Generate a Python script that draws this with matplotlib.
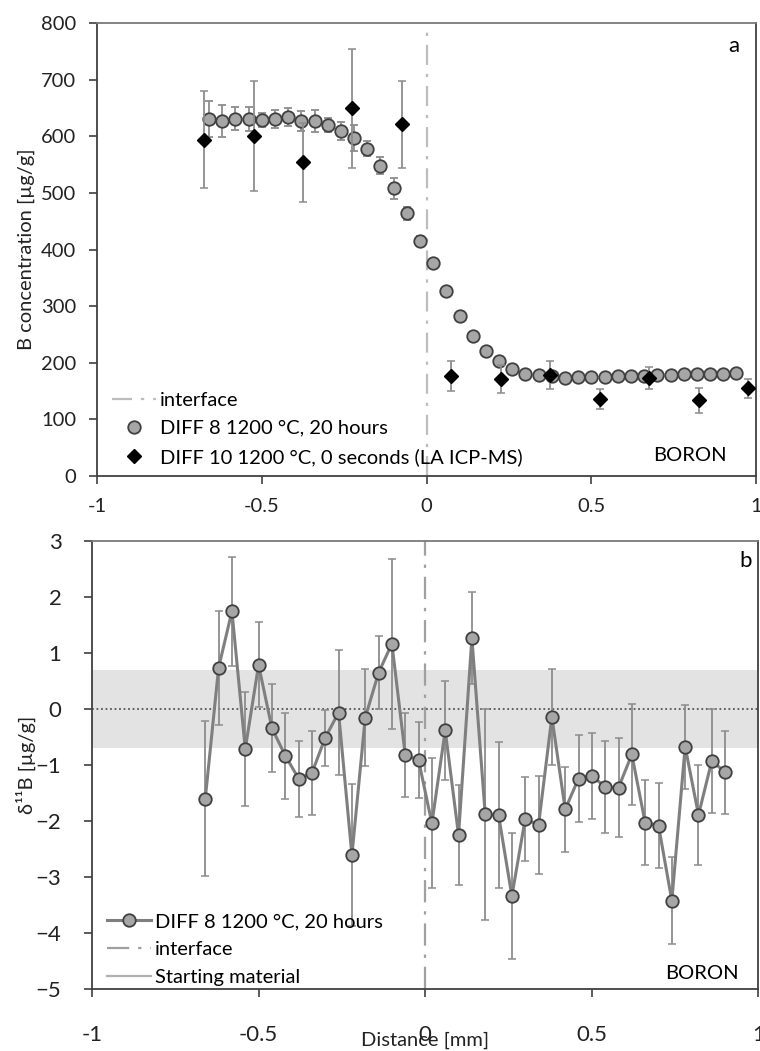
import matplotlib
matplotlib.use("Agg")
import matplotlib.pyplot as plt
from matplotlib.ticker import FuncFormatter

plt.rcParams["font.family"] = ["Lato", "DejaVu Sans"]

# panel a: B concentration, DIFF 8 (20 h)
dist_8 = [-0.66, -0.62, -0.58, -0.54, -0.50, -0.46, -0.42, -0.38, -0.34, -0.30,
          -0.26, -0.22, -0.18, -0.14, -0.10, -0.06, -0.02, 0.02, 0.06, 0.10,
          0.14, 0.18, 0.22, 0.26, 0.30, 0.34, 0.38, 0.42, 0.46, 0.50,
          0.54, 0.58, 0.62, 0.66, 0.70, 0.74, 0.78, 0.82, 0.86, 0.90, 0.94]
conc_8 = [631, 627, 631, 631, 629, 631, 634, 627, 627, 620,
          610, 597, 578, 548, 508, 464, 416, 376, 327, 283,
          247, 221, 203, 190, 181, 178, 177, 174, 175, 175,
          175, 176, 177, 177, 178, 178, 180, 180, 180, 180, 182]
err_8 = [32, 28, 20, 21, 13, 16, 16, 17, 19, 13,
         16, 23, 13, 15, 18, 12, 8, 6, 6, 6,
         6, 6, 6, 5, 5, 5, 5, 5, 5, 5,
         5, 5, 5, 5, 5, 5, 5, 5, 5, 5, 5]

# panel a: DIFF 10 (0 s, LA ICP-MS)
dist_10 = [-0.675, -0.525, -0.375, -0.225, -0.075, 0.075, 0.225, 0.375, 0.525, 0.675, 0.825, 0.975]
conc_10 = [594, 601, 554, 650, 621, 177, 172, 178, 136, 173, 134, 155]
err_10 = [86, 97, 70, 105, 77, 27, 25, 25, 17, 20, 22, 17]

# panel b: delta 11B, DIFF 8
dist_d = [-0.66, -0.62, -0.58, -0.54, -0.50, -0.46, -0.42, -0.38, -0.34, -0.30,
          -0.26, -0.22, -0.18, -0.14, -0.10, -0.06, -0.02, 0.02, 0.06, 0.10,
          0.14, 0.18, 0.22, 0.26, 0.30, 0.34, 0.38, 0.42, 0.46, 0.50,
          0.54, 0.58, 0.62, 0.66, 0.70, 0.74, 0.78, 0.82, 0.86, 0.90]
delta_d = [-1.60, 0.74, 1.75, -0.71, 0.79, -0.34, -0.83, -1.24, -1.14, -0.51,
           -0.06, -2.61, -0.15, 0.65, 1.17, -0.82, -0.91, -2.04, -0.38, -2.25,
           1.27, -1.88, -1.89, -3.34, -1.96, -2.07, -0.14, -1.79, -1.24, -1.19,
           -1.39, -1.40, -0.81, -2.03, -2.08, -3.42, -0.67, -1.89, -0.92, -1.13]
err_d = [1.39, 1.02, 0.97, 1.02, 0.76, 0.79, 0.77, 0.68, 0.75, 0.50,
         1.11, 1.27, 0.86, 0.65, 1.52, 0.75, 0.68, 1.16, 0.88, 0.90,
         0.82, 1.88, 1.30, 1.12, 0.75, 0.87, 0.85, 0.76, 0.77, 0.77,
         0.82, 0.88, 0.90, 0.76, 0.76, 0.77, 0.75, 0.90, 0.93, 0.74]
start_band = 0.7

fig = plt.figure(figsize=(7.6, 10.51), dpi=100)
ax1 = fig.add_axes([0.1276, 0.547, 0.8674, 0.431])
ax2 = fig.add_axes([0.121, 0.059, 0.877, 0.426])

fmt = FuncFormatter(lambda v, p: f"{v:g}")

# ---- panel a
iface = ax1.axvline(0, color="#bdbdbd", lw=1.6, ls=(0, (9, 4, 1.5, 4)), zorder=1)
eb8 = ax1.errorbar(dist_8, conc_8, yerr=err_8, fmt="o", ms=9, mfc="#a6a6a6", mec="#404040",
                   mew=1.3, ecolor="#8c8c8c", elinewidth=1.3, capsize=3, capthick=1.1, zorder=3)
eb10 = ax1.errorbar(dist_10, conc_10, yerr=err_10, fmt="D", ms=7, mfc="black", mec="black",
                    ecolor="#8c8c8c", elinewidth=1.3, capsize=3, capthick=1.1, zorder=4)
ax1.set_xlim(-1, 1)
ax1.set_ylim(0, 800)
ax1.set_yticks(range(0, 801, 100))
ax1.set_xticks([-1, -0.5, 0, 0.5, 1])
ax1.xaxis.set_major_formatter(fmt)
ax1.tick_params(labelsize=14.5, length=6, width=1.2, color="#404040", labelcolor="#222222")
ax1.tick_params(axis="x", pad=10)
ax1.tick_params(axis="y", pad=9)
ax1.set_ylabel("B concentration [µg/g]", fontsize=14.5, color="#222222", labelpad=4)
ax1.text(0.975, 0.95, "a", transform=ax1.transAxes, fontsize=16, ha="right", va="center")
ax1.text(0.955, 0.045, "BORON", transform=ax1.transAxes, fontsize=14.5, ha="right", va="center")
# legend shows only the markers, not the error bars
ax1.legend([iface, eb8.lines[0], eb10.lines[0]],
           ["interface", "DIFF 8 1200 °C, 20 hours", "DIFF 10 1200 °C, 0 seconds (LA ICP-MS)"],
           loc="lower left", frameon=False, fontsize=14.5, handlelength=2.2,
           handletextpad=0.2, labelspacing=0.55, borderaxespad=0.0, bbox_to_anchor=(0.01, 0.005))

# ---- panel b
ax2.axhspan(-start_band, start_band, color="#e3e3e3", lw=0, zorder=0)
ax2.axhline(0, color="#555555", lw=1.3, ls=(0, (1, 1.5)), zorder=1)
ax2.axvline(0, color="#a0a0a0", lw=1.6, ls=(0, (10, 4, 1.5, 4)), zorder=1)
ax2.errorbar(dist_d, delta_d, yerr=err_d, fmt="none", ecolor="#8c8c8c", elinewidth=1.3,
             capsize=3, capthick=1.1, zorder=2)
ax2.plot(dist_d, delta_d, "-o", color="#7f7f7f", lw=2.2, ms=9, mfc="#a6a6a6", mec="#404040",
         mew=1.3, zorder=3)
ax2.set_xlim(-1, 1)
ax2.set_ylim(-5, 3)
ax2.set_yticks(range(-5, 4))
ax2.set_xticks([-1, -0.5, 0, 0.5, 1])
ax2.xaxis.set_major_formatter(fmt)
ax2.tick_params(labelsize=16, length=6, width=1.2, color="#404040", labelcolor="#222222")
ax2.tick_params(axis="x", pad=20)
ax2.tick_params(axis="y", pad=16)
ax2.set_ylabel("δ¹¹B [µg/g]", fontsize=14.5, color="#222222", labelpad=0)
ax2.text(0.99, 0.955, "b", transform=ax2.transAxes, fontsize=16, ha="right", va="center")
ax2.text(0.97, 0.035, "BORON", transform=ax2.transAxes, fontsize=14.5, ha="right", va="center")
fig.text(425 / 760, 1 - 1040 / 1051, "Distance [mm]", fontsize=14.5, ha="center", va="center",
         color="#222222")

leg_handles = [
    plt.Line2D([], [], color="#7f7f7f", lw=2.2, marker="o", ms=9, mfc="#a6a6a6", mec="#404040", mew=1.3),
    plt.Line2D([], [], color="#a0a0a0", lw=1.6, ls=(0, (10, 4, 1.5, 4))),
    plt.Line2D([], [], color="#b0b0b0", lw=1.6),
]
ax2.legend(leg_handles, ["DIFF 8 1200 °C, 20 hours", "interface", "Starting material"],
           loc="lower left", frameon=False, fontsize=14.5, handlelength=2.2,
           handletextpad=0.2, labelspacing=0.55, borderaxespad=0.0, bbox_to_anchor=(0.01, -0.012))

for ax in (ax1, ax2):
    for side in ("left", "bottom", "right"):
        ax.spines[side].set_color("#404040")
        ax.spines[side].set_linewidth(1.3)
    ax.spines["top"].set_color("#7a7a7a")
    ax.spines["top"].set_linewidth(1.3)

fig.savefig("out.png", dpi=100)
